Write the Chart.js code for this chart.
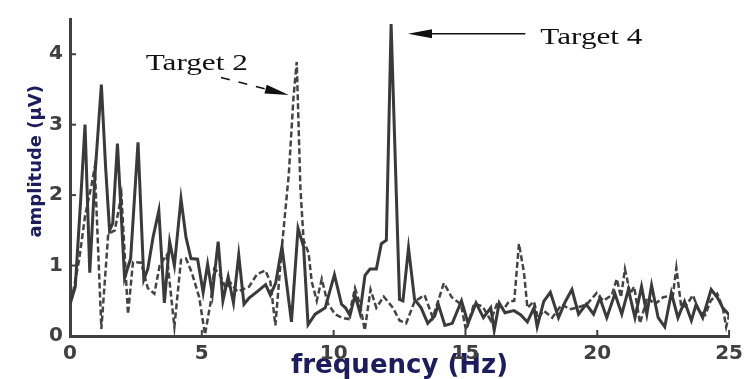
<!DOCTYPE html>
<html><head><meta charset="utf-8">
<script src="https://cdn.jsdelivr.net/npm/chart.js@4"></script>
<style>html,body{margin:0;padding:0;background:#fff}</style>
</head><body>
<canvas id="c" width="749" height="379"></canvas>
<script>
// ---- data ----
const freqSolid = [0.0,0.2,0.4,0.57,0.75,0.95,1.19,1.35,1.5,1.62,1.8,2.07,2.3,2.58,2.8,2.95,3.15,3.37,3.58,3.78,3.96,4.21,4.4,4.59,4.84,5.05,5.22,5.4,5.62,5.8,6.0,6.2,6.4,6.6,6.79,7.1,7.42,7.6,7.8,8.04,8.4,8.65,8.86,9.03,9.3,9.68,10.03,10.3,10.45,10.62,10.81,11.0,11.19,11.38,11.62,11.81,12.0,12.18,12.5,12.63,12.84,13.07,13.32,13.57,13.83,13.97,14.22,14.5,14.85,15.1,15.4,15.68,15.96,16.09,16.28,16.5,16.84,17.1,17.35,17.6,17.72,17.97,18.22,18.53,18.79,19.04,19.29,19.58,19.86,20.1,20.36,20.67,20.93,21.18,21.43,21.68,21.88,22.06,22.31,22.56,22.81,23.06,23.31,23.57,23.75,24.0,24.32,24.57,24.76,25.0];
const ampSolid  = [0.45,0.7,1.9,3.0,0.9,2.3,3.57,2.4,1.5,1.6,2.73,0.82,1.1,2.75,0.8,0.95,1.4,1.78,0.47,1.34,1.0,1.95,1.4,1.1,1.09,0.62,1.02,0.6,1.34,0.5,0.84,0.47,1.15,0.45,0.54,0.63,0.73,0.58,0.75,1.27,0.2,1.53,1.27,0.16,0.31,0.4,0.87,0.45,0.4,0.29,0.58,0.33,0.86,0.95,0.95,1.31,1.36,4.43,0.52,0.5,1.25,0.52,0.4,0.18,0.28,0.45,0.15,0.18,0.5,0.18,0.47,0.26,0.4,0.08,0.47,0.33,0.36,0.3,0.2,0.4,0.13,0.49,0.62,0.26,0.49,0.66,0.31,0.45,0.31,0.54,0.26,0.6,0.31,0.66,0.26,0.7,0.31,0.72,0.26,0.13,0.61,0.26,0.49,0.22,0.45,0.26,0.66,0.54,0.4,0.3];

const freqDashed = [0.0,0.1,0.35,0.57,0.82,0.94,1.19,1.45,1.7,1.95,2.2,2.39,2.7,2.95,3.2,3.4,3.67,3.96,4.21,4.4,4.62,4.9,5.12,5.34,5.47,5.65,5.91,6.1,6.35,6.79,7.1,7.41,7.6,7.79,8.04,8.3,8.48,8.6,8.74,8.86,9.05,9.17,9.36,9.55,9.77,10.05,10.3,10.56,10.81,11.0,11.18,11.4,11.62,11.9,12.25,12.5,12.75,13.07,13.45,13.76,14.18,14.48,14.83,15.02,15.33,15.65,15.96,16.21,16.45,16.65,16.85,17.03,17.22,17.35,17.6,17.75,17.97,18.29,18.66,18.95,19.23,19.6,19.98,20.23,20.55,20.74,20.9,21.05,21.25,21.4,21.62,21.9,22.18,22.5,22.87,23.0,23.19,23.4,23.63,23.85,24.1,24.3,24.55,24.76,24.89,25.0];
const ampDashed  = [0.5,0.59,1.09,1.7,2.15,2.4,0.1,1.45,1.5,2.0,0.31,1.05,1.04,0.68,0.6,1.0,1.15,0.13,1.08,1.1,0.9,0.55,0.02,0.49,0.95,0.9,0.68,0.75,0.63,0.7,0.88,0.93,0.77,0.15,1.27,2.3,3.4,3.89,2.1,1.36,1.18,0.77,0.5,0.81,0.47,0.31,0.26,0.24,0.68,0.45,0.08,0.66,0.4,0.56,0.4,0.22,0.18,0.49,0.58,0.26,0.75,0.55,0.45,0.08,0.46,0.42,0.22,0.47,0.38,0.49,0.5,1.31,0.9,0.4,0.49,0.25,0.36,0.26,0.45,0.38,0.4,0.45,0.61,0.5,0.58,0.81,0.55,0.95,0.6,0.7,0.18,0.55,0.45,0.55,0.58,0.97,0.4,0.45,0.58,0.35,0.3,0.5,0.6,0.4,0.13,0.3];

const xTickValues = [0,5,10,15,20,25];
const yTickValues = [0,1,2,3,4];
const xTitle = 'frequency (Hz)';
const yTitle = 'amplitude (\u03bcV)';
const annotationTexts = ['Target 2','Target 4'];

// ---- annotation placement (in data units) ----
const annotPlace = {
  t2Text:[2.87,3.78], t2Tail:[5.73,3.67], t2Tip:[8.3,3.42],
  t4Text:[17.84,4.15], t4Tail:[17.27,4.29], t4Tip:[12.82,4.29],
  yTitleCenter:2.48
};

const AXIS = '#404040';
const TITLE = '#1c1c5e';

function drawArrow(ctx, x0, y0, x1, y1, dashed){
  const ang = Math.atan2(y1-y0, x1-x0);
  const headLen = 24, headW = 4.5;
  const bx = x1 - headLen*Math.cos(ang), by = y1 - headLen*Math.sin(ang);
  ctx.setLineDash(dashed ? [9,9] : []);
  ctx.beginPath(); ctx.moveTo(x0,y0); ctx.lineTo(bx,by); ctx.stroke();
  ctx.setLineDash([]);
  ctx.beginPath();
  ctx.moveTo(x1,y1);
  ctx.lineTo(bx - headW*Math.sin(ang), by + headW*Math.cos(ang));
  ctx.lineTo(bx + headW*Math.sin(ang), by - headW*Math.cos(ang));
  ctx.closePath(); ctx.fill();
}

const decor = {
  id:'decor',
  afterDraw(chart){
    const {ctx, scales:{x, y}} = chart;
    ctx.save();
    // inward tick marks
    ctx.strokeStyle = AXIS; ctx.lineWidth = 2;
    x.ticks.forEach(t => { const px = x.getPixelForValue(t.value);
      ctx.beginPath(); ctx.moveTo(px, y.bottom); ctx.lineTo(px, y.bottom-6); ctx.stroke(); });
    y.ticks.forEach(t => { const py = y.getPixelForValue(t.value);
      ctx.beginPath(); ctx.moveTo(x.left, py); ctx.lineTo(x.left+6, py); ctx.stroke(); });
    // y title
    ctx.save();
    ctx.fillStyle = TITLE;
    ctx.font = 'bold 18px "DejaVu Sans"';
    ctx.translate(36, y.getPixelForValue(annotPlace.yTitleCenter));
    ctx.rotate(-Math.PI/2);
    ctx.textAlign = 'center'; ctx.textBaseline = 'middle';
    ctx.fillText(yTitle, 0, 0);
    ctx.restore();
    // annotations
    const P = (a) => [x.getPixelForValue(a[0]), y.getPixelForValue(a[1])];
    ctx.fillStyle = '#111'; ctx.strokeStyle = '#111'; ctx.lineWidth = 1.5;
    let a = P(annotPlace.t2Tail), b = P(annotPlace.t2Tip);
    drawArrow(ctx, a[0], a[1], b[0], b[1], true);
    a = P(annotPlace.t4Tail); b = P(annotPlace.t4Tip);
    drawArrow(ctx, a[0], a[1], b[0], b[1], false);
    ctx.font = '24px "Liberation Serif"';
    ctx.textAlign = 'left'; ctx.textBaseline = 'alphabetic';
    [[annotationTexts[0], annotPlace.t2Text],[annotationTexts[1], annotPlace.t4Text]].forEach(([txt,pos]) => {
      const p = P(pos);
      ctx.save(); ctx.translate(p[0], p[1]); ctx.scale(1.3,1); ctx.fillText(txt, 0, 0); ctx.restore();
    });
    ctx.restore();
  }
};

const tickFont = {family:'DejaVu Sans', weight:'bold', size:20};

new Chart(document.getElementById('c'), {
  type:'line',
  data:{
    datasets:[
      {label:'solid', data:freqSolid.map((f,i)=>({x:f,y:ampSolid[i]})), borderColor:'#3a3a3a', borderWidth:3, pointRadius:0, tension:0, fill:false},
      {label:'dashed', data:freqDashed.map((f,i)=>({x:f,y:ampDashed[i]})), borderColor:'#444', borderWidth:2.5, borderDash:[6,3], pointRadius:0, tension:0, fill:false}
    ]
  },
  options:{
    responsive:false, animation:false, devicePixelRatio:1,
    layout:{padding:{top:8, right:16, left:0, bottom:0}},
    plugins:{legend:{display:false}, tooltip:{enabled:false}},
    scales:{
      x:{type:'linear', min:0, max:25,
        afterFit(s){ s.height = 43; },
        afterBuildTicks(s){ s.ticks = xTickValues.map(v=>({value:v})); },
        ticks:{padding:6, color:AXIS, font:tickFont, maxRotation:0, autoSkip:false},
        grid:{display:true, drawOnChartArea:false, drawTicks:false},
        border:{display:true, color:AXIS, width:3},
        title:{display:true, text:xTitle, color:TITLE, font:{family:'DejaVu Sans', weight:'bold', size:26, lineHeight:1}, padding:{top:0,bottom:0}}
      },
      y:{type:'linear', min:0, max:4.5,
        afterFit(s){ s.width = 70; },
        afterBuildTicks(s){ s.ticks = yTickValues.map(v=>({value:v})); },
        ticks:{padding:7, color:AXIS, font:tickFont},
        grid:{display:true, drawOnChartArea:false, drawTicks:false},
        border:{display:true, color:AXIS, width:3}
      }
    }
  },
  plugins:[decor]
});
</script>
</body></html>
